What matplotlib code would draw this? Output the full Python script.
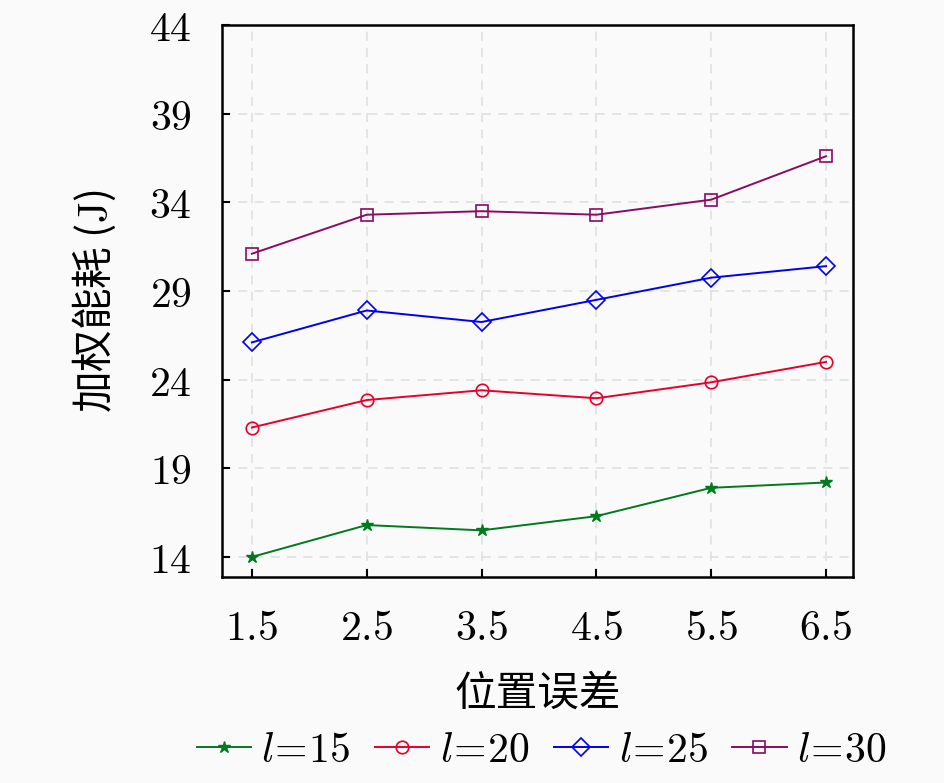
import matplotlib
matplotlib.use("Agg")
import matplotlib.pyplot as plt

plt.rcParams['mathtext.fontset'] = 'cm'
plt.rcParams['font.family'] = ['Noto Sans CJK SC', 'DejaVu Sans']

x = [1.5, 2.5, 3.5, 4.5, 5.5, 6.5]
l15 = [14.0, 15.8, 15.5, 16.3, 17.9, 18.2]
l20 = [21.3, 22.85, 23.4, 22.95, 23.85, 25.0]
l25 = [26.1, 27.9, 27.25, 28.5, 29.75, 30.4]
l30 = [31.1, 33.3, 33.5, 33.3, 34.15, 36.6]
labels = [r'$l\!=\!15$', r'$l\!=\!20$', r'$l\!=\!25$', r'$l\!=\!30$']
yticks = [14, 19, 24, 29, 34, 39, 44]

fig = plt.figure(figsize=(9.45, 7.83), dpi=100)
fig.patch.set_facecolor('#fafafa')
ax = fig.add_axes([222/945, 1-577/783, (853-222)/945, (577-25)/783])
ax.set_facecolor('#fafafa')

ax.plot(x, l15, color='#007a1e', marker='*', ms=9, lw=1.4, label=labels[0])
ax.plot(x, l20, color='#e8002a', marker='o', ms=9, mfc='none', mew=1.2, lw=1.4, label=labels[1])
ax.plot(x, l25, color='#0000ee', marker='D', ms=9, mfc='none', mew=1.2, lw=1.4, label=labels[2])
ax.plot(x, l30, color='#8b0a63', marker='s', ms=8, mfc='none', mew=1.2, lw=1.4, label=labels[3])

ax.set_xlim(1.24, 6.735)
ax.set_ylim(12.87, 44)
ax.set_xticks(x)
ax.set_xticklabels([f'${v}$' for v in x], fontsize=30)
ax.set_yticks(yticks)
ax.set_yticklabels([f'${v}$' for v in yticks], fontsize=30)
ax.tick_params(axis='x', direction='in', length=6, width=1.5, pad=22)
ax.tick_params(axis='y', direction='in', length=6, width=1.5, pad=22)
ax.grid(True, ls=(0, (5, 4)), color='#e2e2e2', lw=1.3)
for s in ax.spines.values():
    s.set_linewidth(1.8)

ax.set_xlabel('位置误差', fontsize=30, labelpad=18)
ax.set_ylabel('加权能耗 ($\\mathrm{J}$)', fontsize=30, labelpad=22)

fig.legend(loc='lower center', bbox_to_anchor=(0.573, 0.0), borderaxespad=0.1, ncol=4, frameon=False,
           fontsize=30, handlelength=1.3, handletextpad=0.25, columnspacing=0.6, borderpad=0.2)

fig.savefig('out.png', dpi=100, facecolor=fig.get_facecolor())
